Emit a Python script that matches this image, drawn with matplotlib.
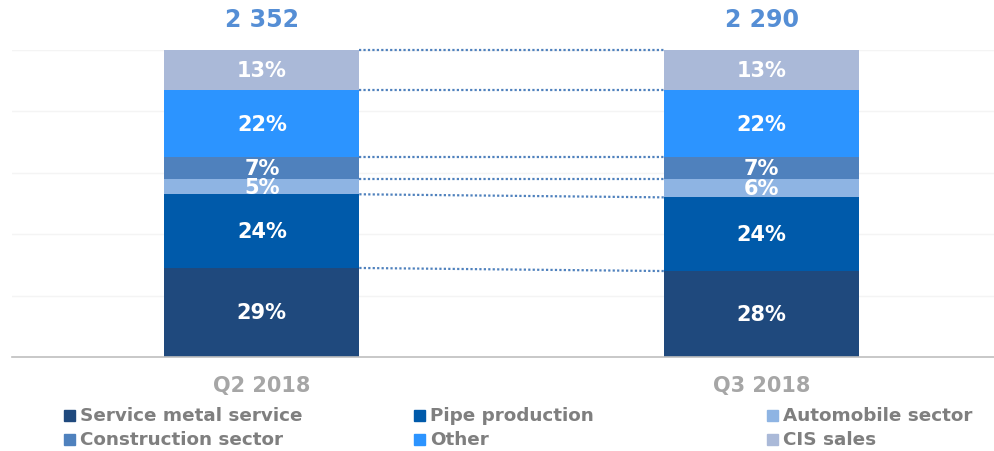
import numpy as np
import matplotlib.pyplot as plt
from matplotlib.patches import Rectangle

plt.rcParams['font.family'] = ['DejaVu Sans']

quarters = ['Q2 2018', 'Q3 2018']
totals = [2352, 2290]
segments = ['Service metal service', 'Pipe production', 'Automobile sector',
            'Construction sector', 'Other', 'CIS sales']
share_q2 = [29, 24, 5, 7, 22, 13]
share_q3 = [28, 24, 6, 7, 22, 13]
colors = ['#1f497d', '#005aaa', '#8eb4e3', '#4f81bd', '#2c94ff', '#aab9d8']

shares = np.array([share_q2, share_q3])
x = np.arange(len(quarters))
width = 0.39

fig = plt.figure(figsize=(9.94, 4.52), dpi=100)
ax = fig.add_axes([12 / 994, 1 - 358 / 452, 1 - 12 / 994, 307 / 452])

bottom = np.zeros(len(quarters))
for i, name in enumerate(segments):
    vals = shares[:, i]
    ax.bar(x, vals, width, bottom=bottom, color=colors[i], zorder=2)
    for xi, v, b in zip(x, vals, bottom):
        ax.text(xi, b + v / 2, f'{v}%', ha='center', va='center',
                color='white', fontsize=15, fontweight='bold', zorder=3)
    bottom = bottom + vals
    # dotted connector between the two bars at each segment top
    ax.plot([x[0] + width / 2, x[1] - width / 2], [bottom[0], bottom[1]],
            linestyle=(0, (1, 1)), color='#4f81bd', lw=1.6, zorder=3,
            clip_on=False)

for xi, t, top in zip(x, totals, bottom):
    ax.annotate(f'{t:,}'.replace(',', ' '), (xi, top), xytext=(0, 31),
                textcoords='offset pixels', ha='center', va='center',
                color='#558ed5', fontsize=17, fontweight='bold',
                annotation_clip=False)

ax.set_xlim(-0.5, (994 - 261.5) / 500)
ax.set_ylim(0, 100)
ax.set_yticks([0, 20, 40, 60, 80, 100])
ax.yaxis.grid(True, color='#f4f4f4', lw=1, zorder=0)
ax.set_yticklabels([])
ax.tick_params(axis='y', length=0)
ax.set_xticks(x)
ax.set_xticklabels(quarters, fontsize=15, fontweight='bold', color='#a6a6a6')
ax.tick_params(axis='x', length=0, pad=13)
for s in ['top', 'right', 'left']:
    ax.spines[s].set_visible(False)
ax.spines['bottom'].set_color('#bfbfbf')
ax.spines['bottom'].set_linewidth(1.2)

# legend laid out in three columns, two rows
col_x = [64, 414, 767]
row_y = [416, 440]
for i, name in enumerate(segments):
    cx = col_x[i % 3]
    cy = row_y[i // 3]
    fig.patches.append(Rectangle((cx / 994, 1 - (cy + 5.5) / 452), 11 / 994, 11 / 452,
                                 transform=fig.transFigure, color=colors[i]))
    fig.text((cx + 16) / 994, 1 - cy / 452, name, ha='left', va='center',
             fontsize=13.2, fontweight='bold', color='#7f7f7f')

fig.savefig('out.png', dpi=100)
